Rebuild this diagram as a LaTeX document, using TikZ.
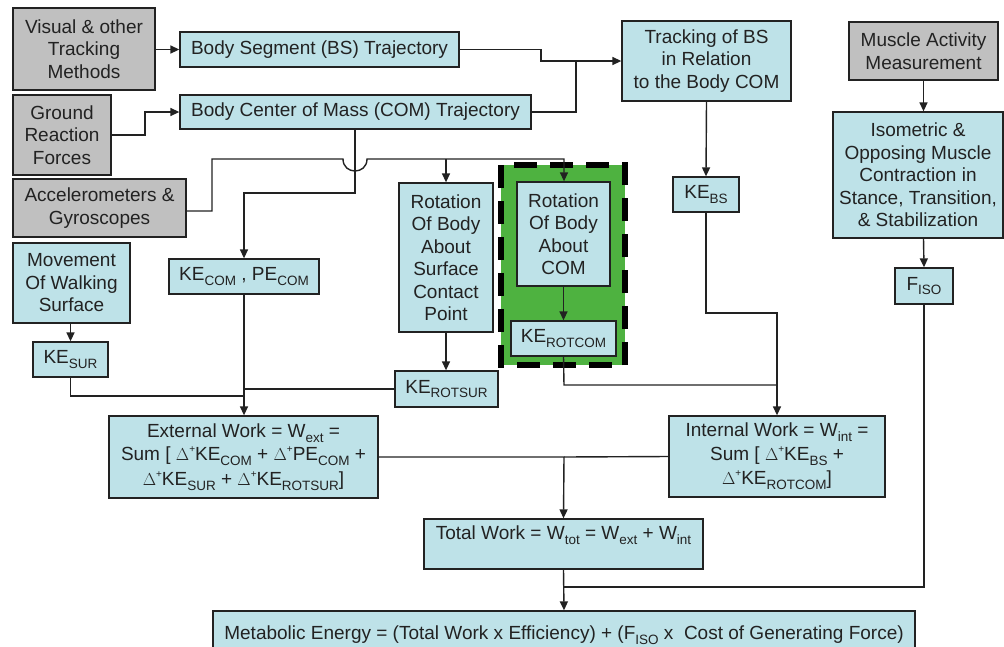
\documentclass[tikz,border=0pt]{standalone}
\usepackage{fontspec}
\setmainfont{Liberation Sans}
\usetikzlibrary{arrows.meta}
\definecolor{boxblue}{RGB}{190,226,232}
\definecolor{boxgray}{RGB}{192,192,192}
\definecolor{boxgreen}{RGB}{78,178,64}
\definecolor{ink}{RGB}{34,34,34}
\newcommand{\sbs}[1]{\raisebox{-0.26em}{\fontsize{13.5}{13.5}\selectfont #1}}
\newcommand{\dpl}{\ensuremath{\Delta}\raisebox{0.42em}{\fontsize{10}{10}\selectfont +}}
\begin{document}
\begin{tikzpicture}[x=1pt,y=-1pt,
  every node/.style={font=\fontsize{19}{22.5}\selectfont, text=ink},
  bx/.style={draw=ink, line width=1.3pt, fill=boxblue, align=center, inner sep=0pt},
  gbx/.style={bx, fill=boxgray},
  ln/.style={draw=ink, line width=1.4pt},
  ar/.style={ln, -{Triangle[length=9pt,width=8pt]}}
]
\useasboundingbox (0,0) rectangle (1004,646);
% green dashed region
\path[fill=boxgreen, draw=black, line width=6.5pt, dash pattern=on 23pt off 13pt] (501,165) rectangle (625,365);

\node[gbx, minimum width=142, minimum height=82] (vis) at (84,49) {Visual \& other\\Tracking\\Methods};
\node[bx, minimum width=279, minimum height=35] (bs) at (319.5,49.5) {Body Segment (BS) Trajectory};
\node[gbx, minimum width=98, minimum height=80] (grf) at (62,135) {Ground\\Reaction\\Forces};
\node[bx, minimum width=351, minimum height=34] (com) at (355.5,112) {Body Center of Mass (COM) Trajectory};
\node[gbx, minimum width=173, minimum height=58] (acc) at (99.5,208) {Accelerometers \&\\Gyroscopes};
\node[bx, minimum width=169, minimum height=80] (trk) at (706.5,61) {Tracking of BS\\in Relation\\to the Body COM};
\node[gbx, minimum width=149, minimum height=58] (mus) at (923.5,51) {Muscle Activity\\Measurement};
\node[bx, minimum width=170, minimum height=126] (iso) at (918,175) {Isometric \&\\Opposing Muscle\\Contraction in\\Stance, Transition,\\\& Stabilization};
\node[bx, minimum width=58, minimum height=36] (fiso) at (924,286) {F\sbs{ISO}};
\node[bx, minimum width=66, minimum height=35] (kebs) at (706,194.5) {KE\sbs{BS}};
\node[bx, minimum width=117, minimum height=80] (mov) at (71.5,283) {Movement\\Of Walking\\Surface};
\node[bx, minimum width=75, minimum height=35] (kesur) at (70.5,359.5) {KE\sbs{SUR}};
\node[bx, minimum width=150, minimum height=35] (kecom) at (244,276.5) {KE\sbs{COM} , PE\sbs{COM}};
\node[bx, minimum width=94, minimum height=149] (rots) at (446,257.5) {Rotation\\Of Body\\About\\Surface\\Contact\\Point};
\node[bx, minimum width=103, minimum height=36] (kerots) at (446.5,389) {KE\sbs{ROTSUR}};
\node[bx, minimum width=93, minimum height=104] (rotc) at (563.5,234) {Rotation\\Of Body\\About\\COM};
\node[bx, minimum width=105, minimum height=35] (kerotc) at (563.5,338.5) {KE\sbs{ROTCOM}};
\node[bx, minimum width=269, minimum height=82] (ext) at (243.5,457) {External Work = W\sbs{ext} =\\[1pt]Sum [ \dpl KE\sbs{COM} + \dpl PE\sbs{COM} +\\[2pt]\dpl KE\sbs{SUR} + \dpl KE\sbs{ROTSUR}]};
\node[bx, minimum width=216, minimum height=81] (int) at (777,456.5) {Internal Work = W\sbs{int} =\\[1pt]Sum [ \dpl KE\sbs{BS} +\\[2pt]\dpl KE\sbs{ROTCOM}]};
\node[bx, minimum width=279, minimum height=50, text height=13pt, text depth=22pt] (tot) at (563.5,544) {Total Work = W\sbs{tot} = W\sbs{ext} + W\sbs{int}};
\node[bx, minimum width=702, minimum height=48] (met) at (564,635) {Metabolic Energy = (Total Work x Efficiency) + (F\sbs{ISO} x~ Cost of Generating Force)};

% connectors
\draw[ar] (vis.east |- bs.west) -- (bs.west);
\coordinate (g1) at (145,135);
\draw[ar] (grf.east |- g1) -- (g1) -- (g1 |- com.west) -- (com.west);
\coordinate (t1) at (541,61);
\draw[ar] (bs.east) -- (t1 |- bs.east) -- (t1) -- (trk.west |- t1);
\coordinate (t2) at (576,61);
\draw[ln] (com.east) -- (t2 |- com.east) -- (t2);
\coordinate (c1) at (355,193);
\draw[ar] (c1 |- com.south) -- (c1) -- (kecom.north |- c1) -- (kecom.north);
\coordinate (a1) at (212,211);
\coordinate (a2) at (212,159);
\coordinate (h1) at (343,159);
\coordinate (h2) at (367,159);
\coordinate (a3) at (446,159);
\coordinate (a4) at (564,159);
\draw[ar] (acc.east |- a1) -- (a1) -- (a2) -- (h1) .. controls (343,175) and (367,175) .. (h2) -- (a4) -- (a4 |- rotc.north);
\draw[ar] (a3) -- (rots.north);
\draw[ar] (trk.south) -- (kebs.north);
\coordinate (b1) at (706,313);
\coordinate (b2) at (777,313);
\draw[ar] (kebs.south) -- (b1) -- (b2) -- (int.north);
\coordinate (r1) at (564,385);
\draw[ln] (kerotc.south) -- (r1) -- (int.north |- r1);
\draw[ar] (mus.south) -- (mus.south |- iso.north);
\draw[ar] (mus.south |- iso.south) -- (fiso.north);
\coordinate (f1) at (924,587);
\draw[ln] (fiso.south) -- (f1) -- (met.north |- f1);
\draw[ar] (mov.south -| kesur.north) -- (kesur.north);
\coordinate (s1) at (70.5,396);
\draw[ln] (kesur.south) -- (s1) -- (ext.north |- s1);
\draw[ar] (kecom.south) -- (kecom.south |- ext.north);
\draw[ln] (kerots.west) -- (ext.north |- kerots.west);
\draw[ar] (rots.south) -- (kerots.north -| rots.south);
\draw[ar] (rotc.south) -- (kerotc.north);
\coordinate (e1) at (564,457);
\draw[ar] (ext.east) -- (e1) -- (tot.north);
\draw[ln] (int.west) -- (e1);
\draw[ar] (tot.south) -- (met.north);
\end{tikzpicture}
\end{document}
